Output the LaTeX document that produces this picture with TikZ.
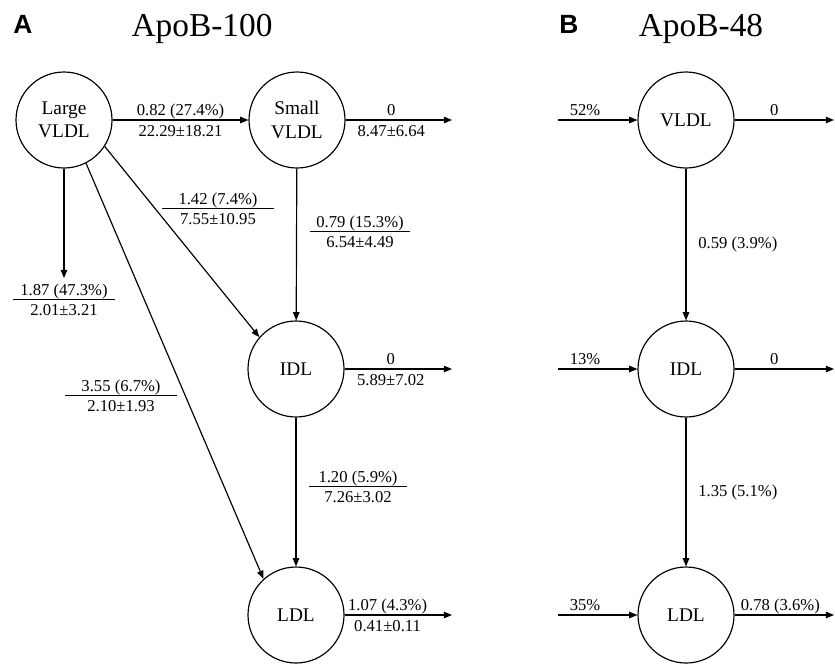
\documentclass[tikz,border=0pt]{standalone}
\usepackage{fontspec}
\setmainfont{Liberation Serif}
\newfontfamily\panelfont{Liberation Sans}
\usetikzlibrary{arrows.meta, positioning}

\setlength{\arrayrulewidth}{0.8pt}
\newcommand{\flux}[3][6pt]{{\setlength{\tabcolsep}{#1}\renewcommand{\arraystretch}{0}%
    \begin{tabular}{c}\rule[-3.4pt]{0pt}{11pt}#2\\\hline\rule[-1pt]{0pt}{14pt}#3\end{tabular}}}

\begin{document}
\begin{tikzpicture}[x=0.3mm, y=-0.3mm,
        pool/.style = {
            circle,
            draw,
            line width=1pt,
            minimum size=28.8mm,
            inner sep=0pt,
            align=center,
            font=\fontsize{16.5}{19.8}\selectfont
        },
        flow/.style = {-{Triangle[length=7pt, width=5.5pt]}, line width=1pt},
        rate/.style = {font=\fontsize{14.2}{17}\selectfont, inner sep=1pt},
        on_top/.style = {rate, above, text height=10.5pt, text depth=3pt, inner sep=0.5pt},
        on_bottom/.style = {rate, below, text height=10.5pt, text depth=3pt, inner sep=3pt},
        title/.style = {font=\fontsize{28.5}{34}\selectfont, anchor=base},
        panel/.style = {font=\panelfont\bfseries\fontsize{22.5}{27}\selectfont, anchor=base}]

        \useasboundingbox (0,0) rectangle (835,663);

        % panel A
        \node[panel] (panel_a) at (23,33) {A};
        \node[title] (title_a) at (202,36) {ApoB-100};

        \node[pool] (large_vldl) at (64,120) {Large\\VLDL};
        \node[pool] (small_vldl) at (297,120) {Small\\VLDL};
        \node[pool] (idl_a) at (296,369) {IDL};
        \node[pool] (ldl_a) at (296,615) {LDL};

        \coordinate (out_large) at (64,278);
        \coordinate (out_small) at (452,120);
        \coordinate (out_idl_a) at (452,369);
        \coordinate (out_ldl_a) at (452,615);

        \draw[flow] (large_vldl) -- node[on_top] (r_ls_top) {0.82 (27.4\%)}
            node[on_bottom] (r_ls_bot) {22.29±18.21} (small_vldl);
        \draw[flow] (large_vldl) -- (out_large);
        \draw[flow] (large_vldl.-33) -- (idl_a.139);
        \draw[flow] (large_vldl.-63) -- (ldl_a.132);
        \draw[flow] (small_vldl) -- (idl_a);
        \draw[flow] (idl_a) -- (ldl_a);
        \draw[flow] (small_vldl) -- node[on_top, pos=0.43] (r_so_top) {0}
            node[on_bottom, pos=0.43] (r_so_bot) {8.47±6.64} (out_small);
        \draw[flow] (idl_a) -- node[on_top, pos=0.43] (r_io_top) {0}
            node[on_bottom, pos=0.43] (r_io_bot) {5.89±7.02} (out_idl_a);
        \draw[flow] (ldl_a) -- node[on_top, pos=0.4] (r_lo_top) {1.07 (4.3\%)}
            node[on_bottom, pos=0.4] (r_lo_bot) {0.41±0.11} (out_ldl_a);

        \node[rate] (r_large_out) at (64,300) {\flux{1.87 (47.3\%)}{2.01±3.21}};
        \node[rate] (r_large_idl) at (218,209) {\flux[14pt]{1.42 (7.4\%)}{7.55±10.95}};
        \node[rate] (r_small_idl) at (360,232) {\flux[5pt]{0.79 (15.3\%)}{6.54±4.49}};
        \node[rate] (r_large_ldl) at (121,396) {\flux[14pt]{3.55 (6.7\%)}{2.10±1.93}};
        \node[rate] (r_idl_ldl) at (358,487) {\flux[8pt]{1.20 (5.9\%)}{7.26±3.02}};

        % panel B
        \node[panel] (panel_b) at (569,33) {B};
        \node[title] (title_b) at (701,36) {ApoB-48};

        \node[pool] (vldl_b) at (686,120) {VLDL};
        \node[pool] (idl_b) at (686,369) {IDL};
        \node[pool] (ldl_b) at (686,615) {LDL};

        \coordinate (in_vldl_b) at (558,120);
        \coordinate (in_idl_b) at (558,369);
        \coordinate (in_ldl_b) at (558,615);
        \coordinate (out_vldl_b) at (834,120);
        \coordinate (out_idl_b) at (834,369);
        \coordinate (out_ldl_b) at (834,615);

        \draw[flow] (in_vldl_b) -- node[on_top, pos=0.34] (r_in_vldl) {52\%} (vldl_b);
        \draw[flow] (in_idl_b) -- node[on_top, pos=0.34] (r_in_idl) {13\%} (idl_b);
        \draw[flow] (in_ldl_b) -- node[on_top, pos=0.34] (r_in_ldl) {35\%} (ldl_b);
        \draw[flow] (vldl_b) -- node[on_top, pos=0.4] (r_out_vldl) {0} (out_vldl_b);
        \draw[flow] (idl_b) -- node[on_top, pos=0.4] (r_out_idl) {0} (out_idl_b);
        \draw[flow] (ldl_b) -- node[on_top, pos=0.46] (r_out_ldl) {0.78 (3.6\%)} (out_ldl_b);
        \draw[flow] (vldl_b) -- node[rate, right=9pt] (r_vldl_idl) {0.59 (3.9\%)} (idl_b);
        \draw[flow] (idl_b) -- node[rate, right=9pt] (r_idl_ldl_b) {1.35 (5.1\%)} (ldl_b);
    \end{tikzpicture}
\end{document}
